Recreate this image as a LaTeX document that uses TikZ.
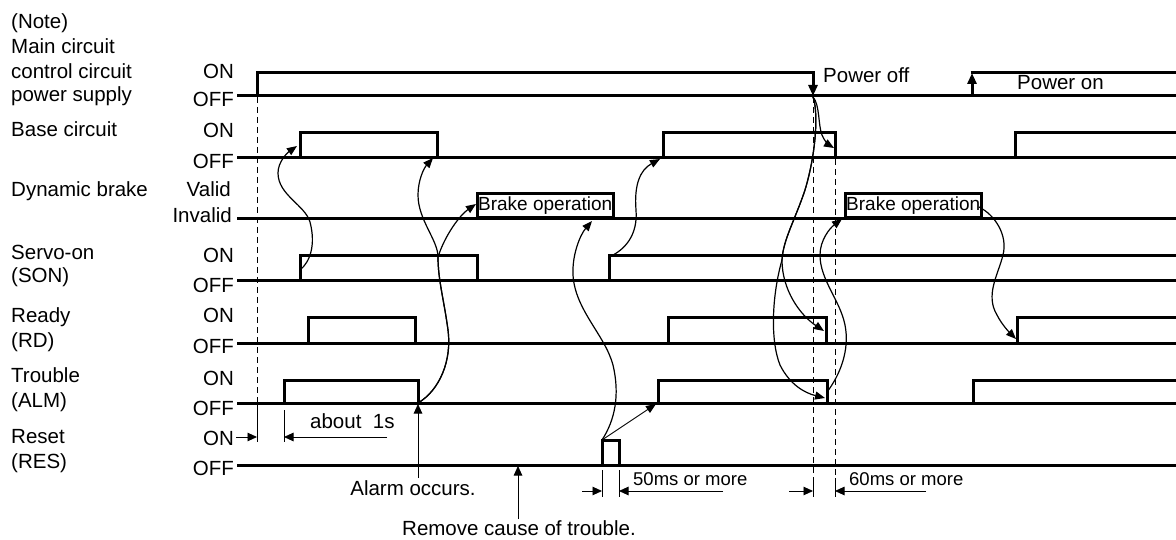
\documentclass[tikz,border=0pt]{standalone}
\usepackage{fontspec}
\setmainfont{Liberation Sans}
\usetikzlibrary{arrows.meta}
\begin{document}
\begin{tikzpicture}[x=1pt,y=-1pt,
  sig/.style={line width=3pt, line join=miter},
  lbl/.style={inner sep=0pt, anchor=base west, font=\fontsize{20.5}{24}\selectfont},
  st/.style={inner sep=0pt, anchor=base east, font=\fontsize{20.5}{24}\selectfont},
  small/.style={inner sep=0pt, anchor=base west, font=\fontsize{18.5}{22}\selectfont},
  curve/.style={line width=1.2pt, -{Triangle[length=10pt,width=8pt]}},
  dim/.style={line width=0.9pt},
  dimarr/.style={line width=0.9pt, -{Triangle[length=9.5pt,width=8.5pt]}},
  dsh/.style={line width=0.9pt, dash pattern=on 6pt off 4pt},
  pwarr/.style={line width=3pt, -{Triangle[length=11pt,width=9pt]}},
  brk/.style={draw, line width=2.5pt, inner sep=0pt, minimum width=136pt, minimum height=24pt, font=\fontsize{19}{22}\selectfont, anchor=south west},
]
\useasboundingbox (0,0) rectangle (1176,540);

% ---------- left labels ----------
\node[lbl] (note) at (11,29) {(Note)};
\node[lbl] (mc1) at (11,54) {Main circuit};
\node[lbl] (mc2) at (11,79) {control circuit};
\node[lbl] (mc3) at (11,102) {power supply};
\node[lbl] (bc) at (11,137) {Base circuit};
\node[lbl] (db) at (11,197) {Dynamic brake};
\node[lbl] (son1) at (11,260) {Servo-on};
\node[lbl] (son2) at (11,283) {(SON)};
\node[lbl] (rd1) at (11,323) {Ready};
\node[lbl] (rd2) at (11,347) {(RD)};
\node[lbl] (alm1) at (11,382) {Trouble};
\node[lbl] (alm2) at (11,407) {(ALM)};
\node[lbl] (res1) at (11,443) {Reset};
\node[lbl] (res2) at (11,468) {(RES)};

% ---------- state labels ----------
\node[st] (pOn) at (234,79) {ON};
\node[st] (pOff) at (234,107) {OFF};
\node[st] (bOn) at (234,138) {ON};
\node[st] (bOff) at (234,169) {OFF};
\node[st] (dVal) at (231,197) {Valid};
\node[st] (dInv) at (232,223) {Invalid};
\node[st] (sOn) at (234,262) {ON};
\node[st] (sOff) at (234,292) {OFF};
\node[st] (rOn) at (234,323) {ON};
\node[st] (rOff) at (234,353) {OFF};
\node[st] (tOn) at (234,385) {ON};
\node[st] (tOff) at (234,415) {OFF};
\node[st] (xOn) at (234,445) {ON};
\node[st] (xOff) at (234,475) {OFF};

% ---------- base lines ----------
\foreach \yy in {96,158,219,281,343,403,465}
  \draw[sig] (237,\yy) -- (1176,\yy);

% ---------- power supply ----------
\draw[sig] (257,96) -- (257,73) -- (813,73) -- (813,80);
\coordinate (poff) at (813,96);
\coordinate (pon) at (972,73);
\draw[pwarr] (813,73) -- (poff);
\draw[pwarr] (972,96) -- (pon);
\draw[sig] (970.5,73) -- (1176,73);
\node[lbl] (poffT) at (823,83) {Power off};
\node[lbl] (ponT) at (1017,90) {Power on};

% ---------- base circuit ----------
\draw[sig] (300,158) -- (300,133) -- (437,133) -- (437,158);
\draw[sig] (663,158) -- (663,133) -- (835,133) -- (835,158);
\draw[sig] (1015,158) -- (1015,133) -- (1176,133);

% ---------- dynamic brake ----------
\node[brk] (br1) at (476,219) {Brake operation};
\node[brk] (br2) at (844,219) {Brake operation};

% ---------- servo-on ----------
\draw[sig] (300,281) -- (300,256) -- (477,256) -- (477,281);
\draw[sig] (609,281) -- (609,256) -- (1176,256);

% ---------- ready ----------
\draw[sig] (308,343) -- (308,317) -- (415,317) -- (415,343);
\draw[sig] (668,343) -- (668,317) -- (826,317) -- (826,343);
\draw[sig] (1017,343) -- (1017,317) -- (1176,317);

% ---------- trouble ----------
\draw[sig] (284,403) -- (284,380) -- (418,380) -- (418,403);
\draw[sig] (658,403) -- (658,380) -- (827,380) -- (827,403);
\draw[sig] (973,403) -- (973,380) -- (1176,380);

% ---------- reset ----------
\draw[sig] (602,465) -- (602,440) -- (619,440) -- (619,465);

% ---------- dashed guides and dimensions ----------
\draw[dsh] (257,97) -- (257,403);
\draw[dim] (257,403) -- (257,442);
\draw[dim] (284,410) -- (284,442);
\coordinate (d1a) at (257,437);
\coordinate (d1b) at (284,437);
\draw[dimarr] (236,437) -- (d1a);
\draw[dimarr] (387,437) -- (d1b);
\node[lbl] (about) at (310,428) {about\ \ 1s};

\draw[dsh] (813,97) -- (813,478);
\draw[dsh] (835,159) -- (835,478);
\draw[dim] (813,478) -- (813,497);
\draw[dim] (835,478) -- (835,497);
\coordinate (d3a) at (813,491);
\coordinate (d3b) at (835,491);
\draw[dimarr] (789,491) -- (d3a);
\draw[dimarr] (926,491) -- (d3b);
\node[small] (ms60) at (849,485) {60ms or more};

\draw[dim] (602,470) -- (602,497);
\draw[dim] (619,470) -- (619,497);
\coordinate (d2a) at (602,491);
\coordinate (d2b) at (619,491);
\draw[dimarr] (582,491) -- (d2a);
\draw[dimarr] (723,491) -- (d2b);
\node[small] (ms50) at (633,485) {50ms or more};

% ---------- event arrows ----------
\coordinate (alarm) at (418,404);
\coordinate (remove) at (518,466);
\draw[dimarr] (418,478) -- (alarm);
\draw[dimarr] (518,519) -- (remove);
\node[lbl, anchor=base] (alarmT) at (413,495) {Alarm occurs.};
\node[lbl, anchor=base] (removeT) at (519,535) {Remove cause of trouble.};

% ---------- causal curves ----------
\coordinate (sonR1) at (300,270);
\coordinate (bR1) at (297,146);
\draw[curve] (sonR1) .. controls (310,262) and (316,245) .. (310,222)
  .. controls (305,205) and (278,195) .. (278,173)
  .. controls (278,162) and (287,153) .. (bR1);

\coordinate (almF1) at (418,403);
\coordinate (split1) at (438,257);
\coordinate (bF1) at (433,158);
\coordinate (br1L) at (476,204);
\draw[curve] (almF1) .. controls (440,390) and (452,360) .. (448,330)
  .. controls (444,300) and (438,280) .. (split1)
  .. controls (438,240) and (418,220) .. (418,195)
  .. controls (418,180) and (424,168) .. (bF1);
\draw[curve] (almF1) .. controls (440,390) and (452,360) .. (448,330)
  .. controls (444,300) and (438,280) .. (split1)
  .. controls (445,235) and (460,215) .. (br1L);

\coordinate (resR) at (602,440);
\coordinate (br1B) at (592,221);
\coordinate (tR2) at (656,404);
\draw[curve] (resR) .. controls (615,420) and (620,395) .. (613,365)
  .. controls (605,335) and (575,310) .. (573,275)
  .. controls (572,255) and (580,235) .. (br1B);
\draw[line width=0.9pt, -{Triangle[length=10pt,width=8pt]}] (resR) -- (tR2);

\coordinate (sonR2) at (609,257);
\coordinate (bR2) at (660,159);
\draw[curve] (sonR2) .. controls (625,250) and (638,235) .. (636,210)
  .. controls (634,185) and (640,170) .. (bR2);

\coordinate (pstart) at (813,97);
\coordinate (bF2) at (834,148);
\draw[curve] (pstart) .. controls (820,105) and (818,125) .. (822,135)
  .. controls (825,142) and (829,145) .. (bF2);

\coordinate (split2) at (782,260);
\coordinate (rF2) at (824,331);
\coordinate (tF2) at (825,398);
\draw[curve] (pstart) .. controls (818,110) and (817,150) .. (805,190)
  .. controls (795,220) and (783,240) .. (split2)
  .. controls (782,290) and (800,315) .. (rF2);
\draw[curve] (pstart) .. controls (818,110) and (817,150) .. (805,190)
  .. controls (795,220) and (783,240) .. (split2)
  .. controls (772,295) and (770,340) .. (780,365)
  .. controls (790,385) and (805,393) .. (tF2);

\coordinate (tF2s) at (827,392);
\coordinate (br2L) at (842,219);
\draw[curve] (tF2s) .. controls (840,375) and (850,350) .. (845,325)
  .. controls (840,300) and (820,280) .. (820,255)
  .. controls (820,240) and (830,228) .. (br2L);

\coordinate (br2R) at (979,207);
\coordinate (rR3) at (1016,339);
\draw[curve] (br2R) .. controls (995,215) and (1008,235) .. (1003,255)
  .. controls (998,275) and (985,295) .. (997,315)
  .. controls (1002,325) and (1010,333) .. (rR3);

\end{tikzpicture}
\end{document}
